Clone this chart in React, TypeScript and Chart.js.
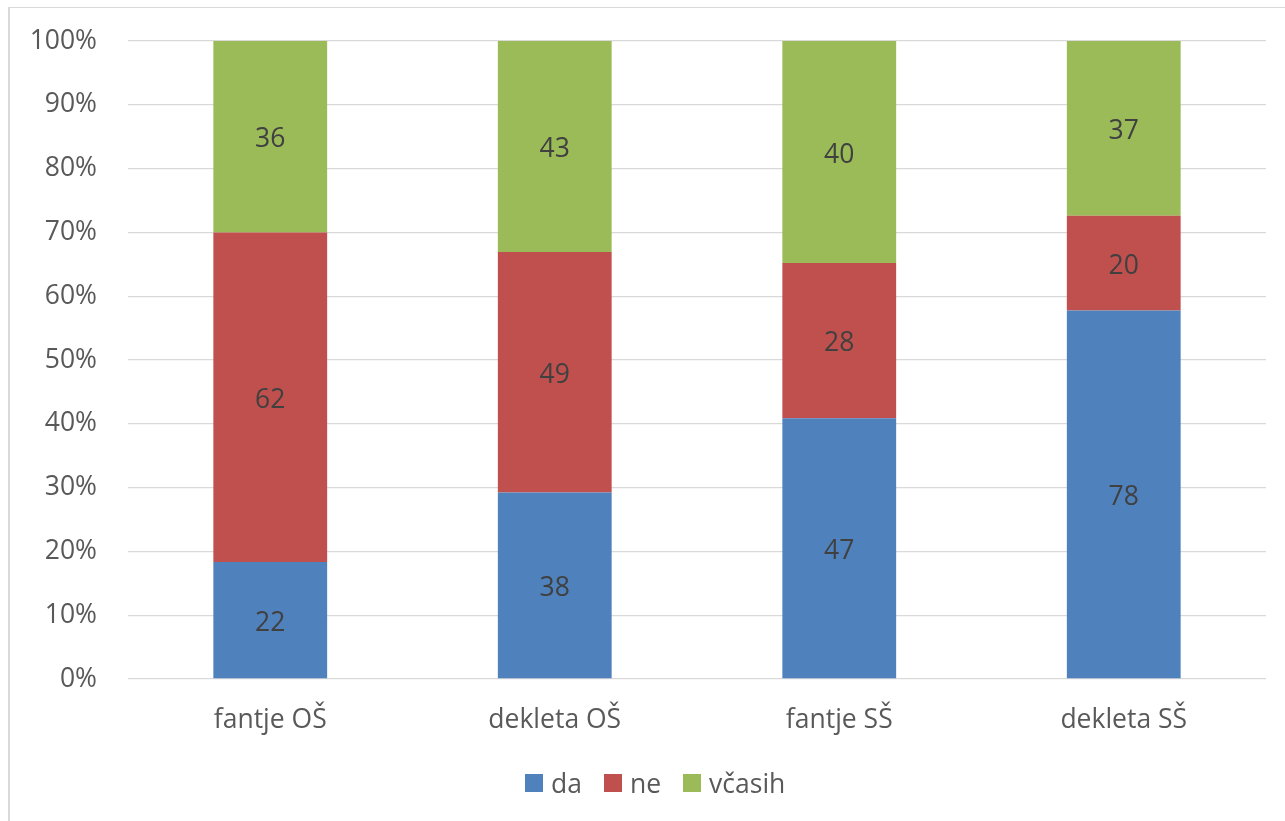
import React, { useEffect, useRef } from "react";
import { Chart, registerables } from "chart.js";

Chart.register(...registerables);

// Groups of respondents
const categories = ["fantje OŠ", "dekleta OŠ", "fantje SŠ", "dekleta SŠ"];

// Number of answers per group
const daCounts = [22, 38, 47, 78];
const neCounts = [62, 49, 28, 20];
const vcasihCounts = [36, 43, 40, 37];

const seriesNames = ["da", "ne", "včasih"];
const seriesColors = ["#4F81BD", "#C0504D", "#9BBB59"];

const yTicks = [0, 10, 20, 30, 40, 50, 60, 70, 80, 90, 100];

const FONT = "'Open Sans', 'Liberation Sans', sans-serif";
const TEXT = "#595959";

const totals = categories.map((_, i) => daCounts[i] + neCounts[i] + vcasihCounts[i]);
const toShare = (counts: number[]) => counts.map((c, i) => (c / totals[i]) * 100);
const countSeries = [daCounts, neCounts, vcasihCounts];

// Writes the raw count in the middle of each stacked segment
const countLabels = {
  id: "countLabels",
  afterDatasetsDraw(chart: any) {
    const ctx = chart.ctx;
    ctx.save();
    ctx.font = `26.5px ${FONT}`;
    ctx.fillStyle = "#404040";
    ctx.textAlign = "center";
    ctx.textBaseline = "middle";
    chart.data.datasets.forEach((ds: any, di: number) => {
      const meta = chart.getDatasetMeta(di);
      meta.data.forEach((bar: any, i: number) => {
        const p = bar.getCenterPoint();
        ctx.fillText(String(ds.counts[i]), p.x, p.y + 3);
      });
    });
    ctx.restore();
  },
};

export default function App() {
  const canvasRef = useRef<HTMLCanvasElement | null>(null);

  useEffect(() => {
    if (!canvasRef.current) return;
    const chart = new Chart(canvasRef.current, {
      type: "bar",
      data: {
        labels: categories,
        datasets: countSeries.map((counts, k) => ({
          label: seriesNames[k],
          data: toShare(counts),
          counts,
          backgroundColor: seriesColors[k],
          borderWidth: 0,
          barPercentage: 0.4,
          categoryPercentage: 1,
        })) as any,
      },
      options: {
        animation: false,
        responsive: false,
        maintainAspectRatio: false,
        layout: { padding: { top: 41, right: 19, left: 0, bottom: 0 } },
        plugins: {
          legend: { display: false },
          tooltip: { enabled: false },
        },
        scales: {
          x: {
            stacked: true,
            grid: { display: false, drawTicks: false },
            border: { display: false },
            ticks: { color: TEXT, font: { family: FONT, size: 26.5 }, padding: 26 },
            afterFit: (s: any) => {
              s.height = 142;
              s.paddingLeft = 0;
              s.paddingRight = 0;
            },
          },
          y: {
            stacked: true,
            min: 0,
            max: 100,
            afterBuildTicks: (s: any) => {
              s.ticks = yTicks.map((v) => ({ value: v }));
            },
            grid: { color: "#D9D9D9", lineWidth: 1.3, drawTicks: false },
            border: { display: false },
            ticks: {
              color: TEXT,
              font: { family: FONT, size: 26.5 },
              padding: 31,
              callback: (v: any) => `${v}%`,
            },
            afterFit: (s: any) => {
              s.width = 128;
              s.paddingTop = 0;
              s.paddingBottom = 0;
            },
          },
        },
      },
      plugins: [countLabels],
    });
    return () => chart.destroy();
  }, []);

  return (
    <div
      style={{
        position: "fixed",
        left: 0,
        top: 0,
        width: 1285,
        height: 821,
        overflow: "hidden",
        background: "#fff",
        fontFamily: FONT,
      }}
    >
      <div
        style={{
          position: "absolute",
          left: 8,
          top: 7,
          width: 1400,
          height: 900,
          borderLeft: "2px solid #D9D9D9",
          borderTop: "1.5px solid #D9D9D9",
        }}
      />
      <canvas
        ref={canvasRef}
        width={1285}
        height={821}
        style={{ position: "absolute", left: 0, top: 0, width: 1285, height: 821 }}
      />
      <div
        style={{
          position: "absolute",
          left: 525,
          top: 764,
          height: 38,
          display: "flex",
          alignItems: "center",
          color: TEXT,
          fontSize: 26.5,
          whiteSpace: "nowrap",
        }}
      >
        {seriesNames.map((name, k) => (
          <div
            key={name}
            style={{ display: "flex", alignItems: "center", marginRight: k < 2 ? 22 : 0 }}
          >
            <span
              style={{
                display: "inline-block",
                width: 18,
                height: 18,
                background: seriesColors[k],
                marginRight: 8,
              }}
            />
            <span>{name}</span>
          </div>
        ))}
      </div>
    </div>
  );
}
